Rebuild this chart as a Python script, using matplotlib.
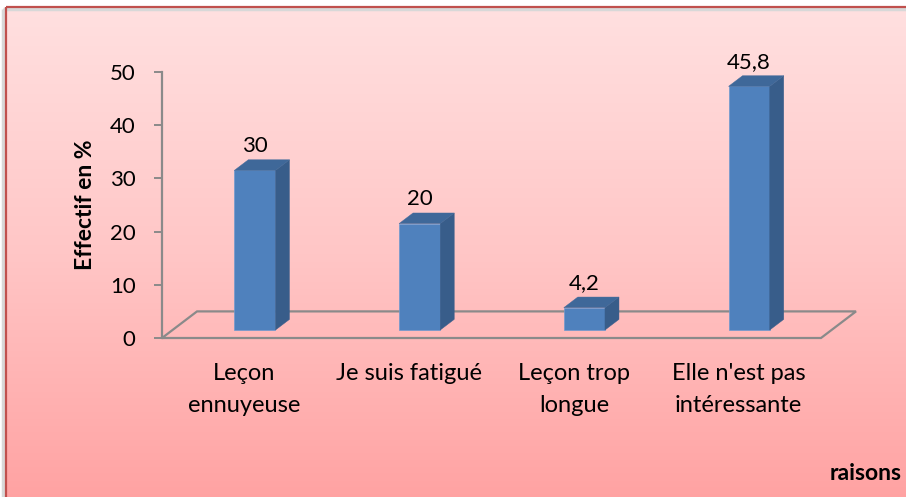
import numpy as np
import matplotlib
matplotlib.use("Agg")
from matplotlib import pyplot as plt
from matplotlib.patches import Rectangle, Polygon

categories = ["Leçon\nennuyeuse", "Je suis fatigué", "Leçon trop\nlongue",
              "Elle n'est pas\nintéressante"]
values = [30, 20, 4.2, 45.8]
y_ticks = [0, 10, 20, 30, 40, 50]
y_label = "Effectif en %"
x_label = "raisons"

plt.rcParams["font.family"] = ["Lato", "DejaVu Sans"]

W, H = 906, 497
fig = plt.figure(figsize=(W / 100, H / 100), dpi=100)

# background: white margin, pink gradient panel with red border
bg = fig.add_axes([0, 0, 1, 1], zorder=0)
bg.set_xlim(0, W)
bg.set_ylim(H, 0)
bg.axis("off")
grad = np.linspace(0, 1, 256).reshape(-1, 1)
cmap = matplotlib.colors.LinearSegmentedColormap.from_list(
    "pink", ["#ffe0e0", "#ffc6c6", "#ffa2a2"])
bg.imshow(grad, cmap=cmap, extent=(6, W + 5, H + 5, 7), aspect="auto")
bg.add_patch(Rectangle((3, 9), W, H, fill=False, edgecolor="#d8d8d8", lw=2.5))
bg.add_patch(Rectangle((6, 7), W, H, fill=False, edgecolor="#c0504d", lw=1.6))

# main axes: front plane of the 3D chart
ax = fig.add_axes([162 / W, (H - 338) / H, 659 / W, 266 / H], zorder=1)
ax.patch.set_alpha(0)
ax.set_xlim(-0.5, len(values) - 0.5)
ax.set_ylim(0, 50)
for s in ["top", "right", "bottom"]:
    ax.spines[s].set_visible(False)
grey = "#8a8a8a"
ax.spines["left"].set_color(grey)
ax.spines["left"].set_linewidth(1.6)
ax.set_yticks(y_ticks)
ax.tick_params(axis="y", length=6, width=1.4, color=grey, pad=13, labelsize=16)
ax.set_xticks(range(len(categories)))
ax.set_xticklabels(categories, fontsize=17, linespacing=1.62)
ax.tick_params(axis="x", length=0, pad=18)

# depth of the floor (in data units) and bar depth placement
dx, dy = 0.2125, 5.0
f0, f1 = 0.3, 0.7
bw = 0.25
x0, x1 = ax.get_xlim()
floor = Polygon([(x0, 0), (x1, 0), (x1 + dx, dy), (x0 + dx, dy)], closed=True,
                fill=False, edgecolor=grey, lw=1.6, clip_on=False, zorder=1)
ax.add_patch(floor)

front_c, side_c, top_c = "#4f81bd", "#385d8a", "#3f6899"
for i, v in enumerate(values):
    xl = i - bw / 2 + f0 * dx
    xr = xl + bw
    b = f0 * dy
    ddx, ddy = (f1 - f0) * dx, (f1 - f0) * dy
    ax.add_patch(Rectangle((xl, b), bw, v, facecolor=front_c, edgecolor="#6f9ad0",
                           lw=0.5, clip_on=False, zorder=3))
    ax.add_patch(Polygon([(xr, b), (xr + ddx, b + ddy), (xr + ddx, b + ddy + v), (xr, b + v)],
                         facecolor=side_c, edgecolor=side_c, lw=0.3, clip_on=False, zorder=3))
    ax.add_patch(Polygon([(xl, b + v), (xr, b + v), (xr + ddx, b + v + ddy), (xl + ddx, b + v + ddy)],
                         facecolor=top_c, edgecolor=top_c, lw=0.3, clip_on=False, zorder=3))
    ax.annotate(f"{v:g}".replace(".", ","), xy=(i + f0 * dx, b + v + ddy),
                xytext=(0, 5.5), textcoords="offset points", ha="center",
                va="baseline", fontsize=16, annotation_clip=False, zorder=4)

fig.text(85 / W, 1 - 205 / H, y_label, rotation=90, ha="center", va="center",
         fontsize=16.5, fontweight="bold")
fig.text(830 / W, 1 - 474 / H, x_label, ha="left", va="center",
         fontsize=16.5, fontweight="bold")

fig.savefig("out.png", dpi=100)
